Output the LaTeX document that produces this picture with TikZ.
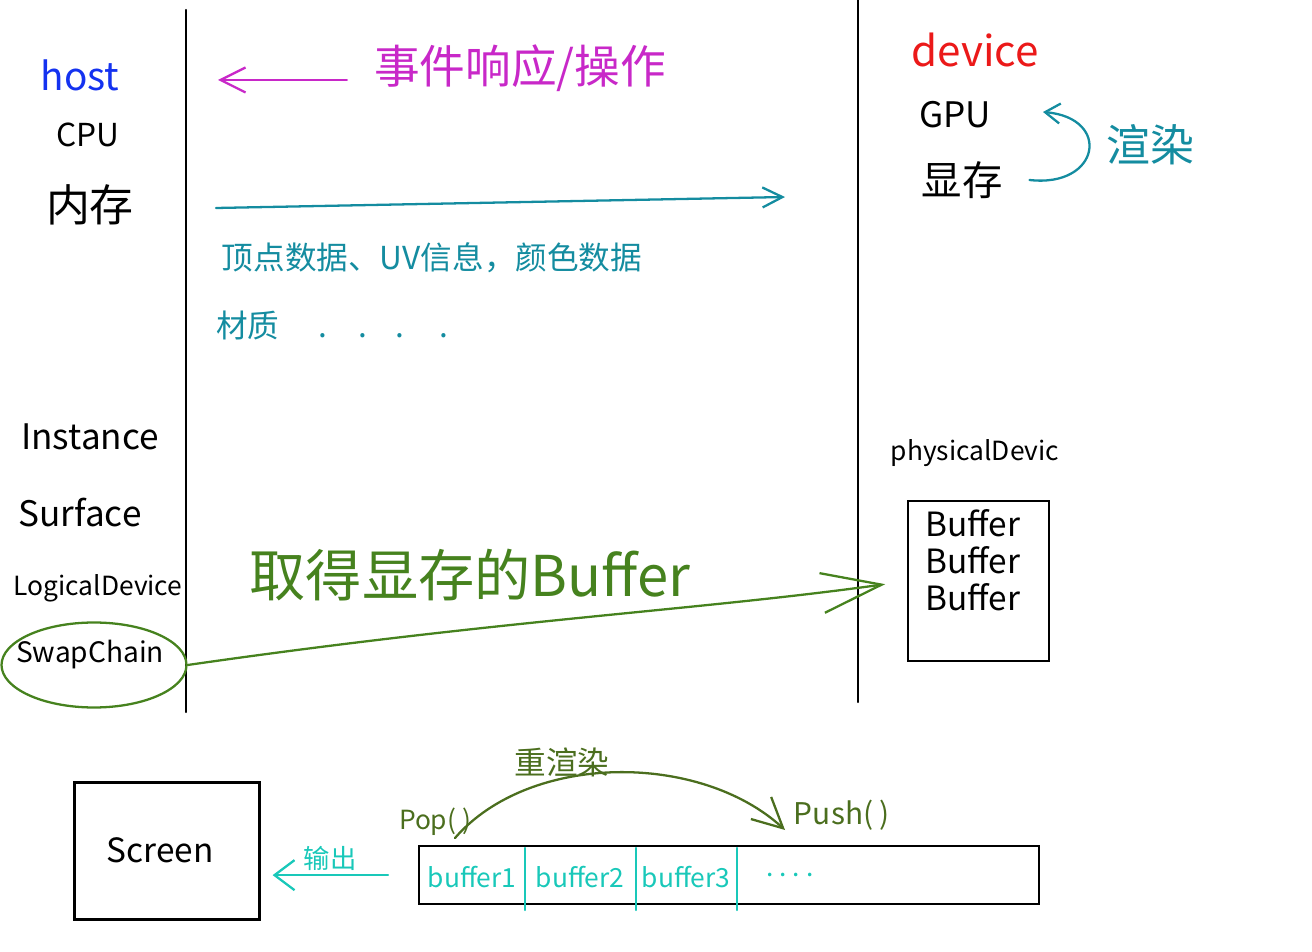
\documentclass[tikz,border=0pt]{standalone}
\usepackage{fontspec}
\newfontfamily\cjk{Noto Sans CJK SC}
\usetikzlibrary{arrows.meta,shapes.geometric}
\definecolor{hostblue}{RGB}{20,50,240}
\definecolor{evtmag}{RGB}{200,40,200}
\definecolor{datateal}{RGB}{20,140,160}
\definecolor{devred}{RGB}{235,25,25}
\definecolor{swapgreen}{RGB}{70,130,30}
\definecolor{arcgreen}{RGB}{75,110,30}
\definecolor{bufcyan}{RGB}{25,200,185}
\tikzset{
  lbl/.style={draw=none, inner sep=1pt, font=\cjk\fontsize{#1}{#1}\selectfont},
  lbl/.default=20,
  pen/.style={line width=1.3pt, line cap=round},
}

\begin{document}
\begin{tikzpicture}[x=0.02cm, y=-0.02cm]
\useasboundingbox (0,0) rectangle (1312,952);

\draw[pen] (186,10) -- (186,712);
\draw[pen] (858,0) -- (858,702);

\node[lbl=22, hostblue] (host) at (80,75) {host};
\node[lbl=18] (cpu) at (88,135) {CPU};
\node[lbl=25] (mem) at (90,205) {内存};

\node[lbl=26, evtmag] (evt) at (520,68) {事件响应/操作};
\coordinate (evtend) at (218,80);
\draw[pen, evtmag, -{Straight Barb[length=5mm,width=5mm]}, shorten <=0.5cm] (evt.west |- evtend) -- (evtend);

\coordinate (datastart) at (216,208);
\coordinate (dataend) at (785,197);
\draw[pen, datateal, -{Straight Barb[length=4mm,width=4mm]}] (datastart) -- (dataend);
\node[lbl=18, datateal] (data) at (432,258) {顶点数据、UV信息，颜色数据};
\node[lbl=18, datateal, anchor=west] (mat) at (214,325) {材质\hspace{22pt}.\hspace{18pt}.\hspace{16pt}.\hspace{20pt}.};

\node[lbl=24, devred] (dev) at (975,50) {device};
\node[lbl=20] (gpu) at (955,115) {GPU};
\node[lbl=23] (vram) at (962,180) {显存};
\draw[pen, datateal, -{Straight Barb[length=3mm,width=4mm]}] ([xshift=0.5cm]vram.east) .. controls (1100,188) and (1112,118) .. (1043,112);
\node[lbl=25, datateal] (render) at (1150,145) {渲染};

\node[lbl=20] (inst) at (90,437) {Instance};
\node[lbl=20] (surf) at (80,513) {Surface};
\node[lbl=15] (logic) at (98,588) {LogicalDevice};
\node[lbl=16] (swap) at (90,655) {SwapChain};
\node[pen, ellipse, draw=swapgreen, minimum width=3.7cm, minimum height=1.7cm] (swapring) at (94,665) {};

\node[lbl=15] (phys) at (975,453) {physicalDevic};
\node[pen, draw, minimum width=2.82cm, minimum height=3.2cm, anchor=north west] (bufbox) at (907,500) {};
\node[lbl=19, align=left] (bufs) at (973,560) {Buffer\\[2pt]Buffer\\[2pt]Buffer};

\draw[pen, swapgreen, -{Straight Barb[length=12mm,width=8mm]}, shorten >=0.44cm] (swapring.east) .. controls (500,620) and (700,610) .. (bufbox.west);
\node[lbl=32, swapgreen] (fetch) at (470,575) {取得显存的Buffer};

\node[pen, draw, minimum width=3.7cm, minimum height=2.74cm] (screen) at (167,851) {};
\node[lbl=19] (scrtxt) at (160,850) {Screen};

\node[pen, draw, minimum width=12.4cm, minimum height=1.16cm, anchor=north west] (strip) at (418,845) {};
\foreach \x in {525,636,737} {
  \draw[pen, bufcyan] (\x,848) -- (\x,910);
}
\node[lbl=15, bufcyan] (buf1) at (472,877) {buffer1};
\node[lbl=15, bufcyan] (buf2) at (580,877) {buffer2};
\node[lbl=15, bufcyan] (buf3) at (686,877) {buffer3};
\node[lbl=15, bufcyan] (bufmore) at (790,875) {.\ .\ .\ .};

\draw[pen, bufcyan, -{Straight Barb[length=4mm,width=6mm]}, shorten <=0.6cm, shorten >=0.24cm] (strip.west) -- (strip.west -| screen.east);
\node[lbl=15, bufcyan] (out) at (330,858) {输出};

\node[lbl=15, arcgreen] (pop) at (435,822) {Pop( )};
\node[lbl=17, arcgreen] (push) at (842,815) {Push( )};
\coordinate (popend) at (455,838);
\coordinate (pushend) at (785,830);
\draw[pen, arcgreen, -{Straight Barb[length=6mm,width=6mm]}] (popend) .. controls (530,752) and (700,752) .. (pushend);
\node[lbl=18, arcgreen] (rerender) at (562,762) {重渲染};

\end{tikzpicture}
\end{document}
